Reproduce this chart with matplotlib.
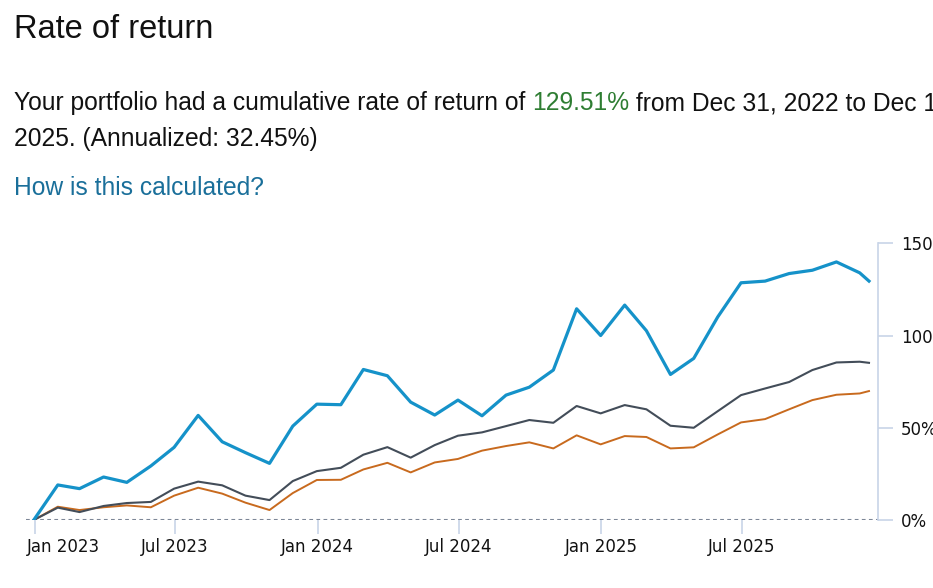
import matplotlib
matplotlib.use("Agg")
import matplotlib.pyplot as plt
import matplotlib.dates as mdates
import matplotlib.transforms as mtransforms
import pandas as pd

# ── Datos ────────────────────────────────────────────────────────────────────

dates = (["2022-12-31"]
         + [d.strftime("%Y-%m-%d") for d in pd.date_range("2023-01-31", "2025-11-30", freq="ME")]
         + ["2025-12-12"])

portfolio = [0, 19.0, 17.0, 23.3, 20.4, 29.3, 39.4, 56.7, 42.4, 36.5, 30.7, 50.9,
             62.8, 62.5, 81.6, 78.2, 63.9, 56.9, 65.0, 56.5, 67.7, 72.0, 81.3, 114.5,
             100.0, 116.5, 102.6, 78.9, 87.6, 110.1, 128.6, 129.5, 133.6, 135.4, 139.9,
             134.0, 129.51]

benchmark_gray = [0, 6.7, 4.3, 7.6, 9.2, 9.8, 17.0, 20.8, 18.8, 13.2, 10.8, 21.1,
                  26.5, 28.3, 35.4, 39.5, 33.8, 40.6, 45.7, 47.5, 50.9, 54.2, 52.7, 61.8,
                  57.8, 62.3, 60.0, 51.1, 50.0, 59.0, 67.7, 71.3, 74.8, 81.3, 85.4,
                  85.8, 85.2]

benchmark_orange = [0, 7.2, 5.4, 6.9, 7.9, 6.9, 13.2, 17.5, 14.3, 9.4, 5.4, 14.6,
                    21.7, 21.8, 27.4, 31.0, 25.8, 31.2, 33.1, 37.6, 40.1, 42.1, 38.8, 45.9,
                    41.0, 45.5, 45.0, 38.8, 39.4, 46.4, 52.9, 54.7, 60.0, 65.0, 67.9,
                    68.6, 69.9]

x_ticks = ["2023-01-01", "2023-07-01", "2024-01-01", "2024-07-01", "2025-01-01", "2025-07-01"]
y_ticks = [0, 50, 100, 150]

# ── Figura ───────────────────────────────────────────────────────────────────

W, H = 933, 588
fig = plt.figure(figsize=(W / 100, H / 100), dpi=100)
fig.patch.set_facecolor("white")

ax = fig.add_axes([26 / W, (H - 520) / H, (878.3 - 26) / W, (520 - 243.3) / H])

x = pd.to_datetime(dates)
ax.plot(x, benchmark_orange, color="#c86a1e", lw=1.4, zorder=3)
ax.plot(x, benchmark_gray, color="#434d59", lw=1.5, zorder=4)
ax.plot(x, portfolio, color="#1592c9", lw=2.3, zorder=5)
ax.axhline(0, color="#7d8797", lw=1.5, linestyle=(0, (1.8, 1.6)), zorder=2)

ax.set_ylim(0, 150)
ax.set_xlim(pd.Timestamp("2022-12-21"), pd.Timestamp("2025-12-24"))

axis_col = "#c8d4e8"
for s in ["top", "left", "bottom"]:
    ax.spines[s].set_visible(False)
ax.spines["right"].set_color(axis_col)
ax.spines["right"].set_linewidth(1.2)

ax.yaxis.tick_right()
ax.set_yticks(y_ticks)
ax.set_yticklabels([f"{v}%" for v in y_ticks])
ax.set_xticks(pd.to_datetime(x_ticks))
ax.xaxis.set_major_formatter(mdates.DateFormatter("%b %Y"))
ax.tick_params(axis="y", direction="out", length=10.5, width=1.2, color=axis_col,
               pad=6, labelsize=12, labelcolor="#111111")
ax.tick_params(axis="x", direction="out", length=10, width=1.2, color=axis_col,
               pad=3, labelsize=12, labelcolor="#111111")

# la primera etiqueta se corre para no salirse del área (como en el original)
fig.canvas.draw()
first = ax.get_xticklabels()[0]
first.set_horizontalalignment("left")
first.set_transform(first.get_transform()
                    + mtransforms.ScaledTranslation(-8 / 100, 0, fig.dpi_scale_trans))

# ── Textos de cabecera ───────────────────────────────────────────────────────

hfont = "Liberation Sans"
fig.text(14 / W, 1 - 29 / H, "Rate of return", fontsize=23.5, family=hfont,
         color="#111111", va="center", ha="left")

renderer = fig.canvas.get_renderer()
parts = [("Your portfolio had a cumulative rate of return of ", "#111111"),
         ("129.51%", "#2e7d32"),
         (" from Dec 31, 2022 to Dec 1", "#111111")]
xpos = 14
for txt, col in parts:
    t = fig.text(xpos / W, 1 - 110 / H, txt, fontsize=17.7, family=hfont,
                 color=col, va="baseline", ha="left")
    xpos += t.get_window_extent(renderer).width
fig.text(14 / W, 1 - 146 / H, "2025. (Annualized: 32.45%)", fontsize=17.7,
         family=hfont, color="#111111", va="baseline", ha="left")
fig.text(14 / W, 1 - 195 / H, "How is this calculated?", fontsize=17.7,
         family=hfont, color="#1a6f9a", va="baseline", ha="left")

fig.savefig("out.png", dpi=100)
plt.close(fig)
